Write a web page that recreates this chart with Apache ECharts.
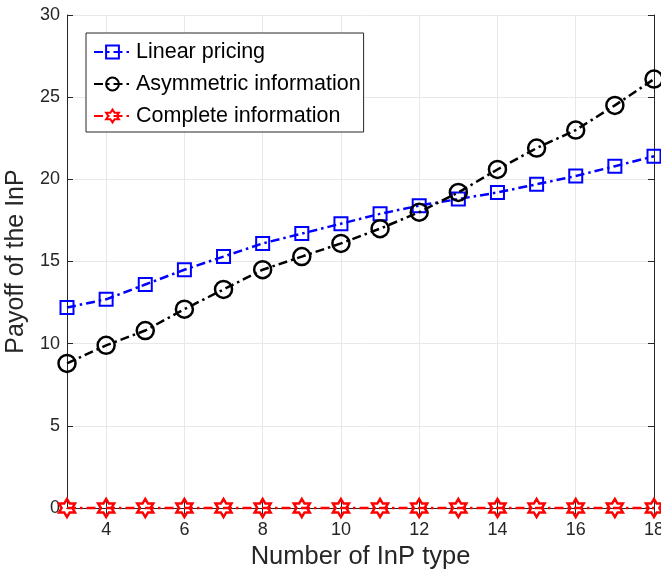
<!DOCTYPE html>
<html>
<head>
<meta charset="utf-8">
<script src="https://cdn.jsdelivr.net/npm/echarts@6/dist/echarts.min.js"></script>
<style>
html,body{margin:0;padding:0;background:#fff;}
#c{width:661px;height:578px;}
</style>
</head>
<body>
<div id="c"></div>
<script>
const xValues = [3,4,5,6,7,8,9,10,11,12,13,14,15,16,17,18];
const linearPricing = [12.2,12.7,13.6,14.5,15.3,16.1,16.7,17.3,17.9,18.4,18.8,19.2,19.7,20.2,20.8,21.4];
const asymmetricInfo = [8.8,9.9,10.8,12.1,13.3,14.5,15.3,16.1,17.0,18.0,19.2,20.6,21.9,23.0,24.5,26.1];
const completeInfo = [0,0,0,0,0,0,0,0,0,0,0,0,0,0,0,0];
const xTicks = [4,6,8,10,12,14,16,18];
const seriesNames = ['Linear pricing','Asymmetric information','Complete information'];

const hexagram = 'path://M0,-10L2.887,-5L8.66,-5L5.77,0L8.66,5L2.887,5L0,10L-2.887,5L-8.66,5L-5.77,0L-8.66,-5L-2.887,-5Z';
const dashDot = [9,4,2.5,4];
const font = 'Arial, "Liberation Sans", Helvetica, sans-serif';
const axisColor = '#262626';
const noFill = 'rgba(255,255,255,0)';

function pairs(vals){ return xValues.map((x,i)=>[x, vals[i]]); }

const chart = echarts.init(document.getElementById('c'), null, {renderer:'canvas'});
chart.setOption({
  animation:false,
  backgroundColor:'#fff',
  textStyle:{fontFamily:font},
  grid:{left:67, right:7, top:15, bottom:70, containLabel:false, outerBoundsMode:'none'},
  legend:{
    left:86, top:33,
    orient:'vertical',
    backgroundColor:'#fff',
    borderColor:'#262626', borderWidth:1,
    padding:[8,3,5,7],
    itemGap:10, itemWidth:37, itemHeight:16,
    textStyle:{fontSize:21.5, color:'#000', fontFamily:font},
    data:seriesNames
  },
  xAxis:[{
    type:'value', min:3, max:18, interval:1,
    name:'Number of InP type', nameLocation:'middle', nameGap:36,
    nameTextStyle:{fontSize:25.5, color:axisColor, fontFamily:font},
    axisLine:{show:true, lineStyle:{color:axisColor, width:1}},
    axisTick:{show:true, inside:true, length:6, customValues:xTicks, lineStyle:{color:axisColor}},
    axisLabel:{show:true, customValues:xTicks, fontSize:18, color:axisColor, margin:13, fontFamily:font},
    splitLine:{show:true, lineStyle:{color:'#e8e8e8', width:1}}
  },{
    type:'value', min:3, max:18, interval:1, position:'top',
    axisLine:{show:true, lineStyle:{color:axisColor, width:1}},
    axisTick:{show:true, inside:true, length:6, customValues:xTicks, lineStyle:{color:axisColor}},
    axisLabel:{show:false},
    splitLine:{show:false}
  }],
  yAxis:[{
    type:'value', min:0, max:30, interval:5,
    name:'Payoff of the InP', nameLocation:'middle', nameGap:32,
    nameTextStyle:{fontSize:25, color:axisColor, fontFamily:font},
    axisLine:{show:true, lineStyle:{color:axisColor, width:1}},
    axisTick:{show:true, inside:true, length:6, lineStyle:{color:axisColor}},
    axisLabel:{fontSize:18, color:axisColor, margin:7, fontFamily:font},
    splitLine:{show:true, lineStyle:{color:'#e8e8e8', width:1}}
  },{
    type:'value', min:0, max:30, interval:5, position:'right',
    axisLine:{show:true, lineStyle:{color:axisColor, width:1}},
    axisTick:{show:true, inside:true, length:6, lineStyle:{color:axisColor}},
    axisLabel:{show:false},
    splitLine:{show:false}
  }],
  series:[{
    name:seriesNames[0], type:'line', data:pairs(linearPricing),
    symbol:'rect', symbolSize:13,
    lineStyle:{color:'#0000ff', width:2.5, type:dashDot},
    itemStyle:{color:noFill, borderColor:'#0000ff', borderWidth:2},
    emphasis:{disabled:true}, z:3
  },{
    name:seriesNames[1], type:'line', data:pairs(asymmetricInfo),
    symbol:'circle', symbolSize:17,
    lineStyle:{color:'#000000', width:2.5, type:dashDot},
    itemStyle:{color:noFill, borderColor:'#000000', borderWidth:2.5},
    emphasis:{disabled:true}, z:4
  },{
    name:seriesNames[2], type:'line', data:pairs(completeInfo),
    symbol:hexagram, symbolSize:[16,18],
    lineStyle:{color:'#ff0000', width:2.5, type:dashDot},
    itemStyle:{color:noFill, borderColor:'#ff0000', borderWidth:2.5},
    emphasis:{disabled:true}, clip:false, z:5
  }]
});
</script>
</body>
</html>
